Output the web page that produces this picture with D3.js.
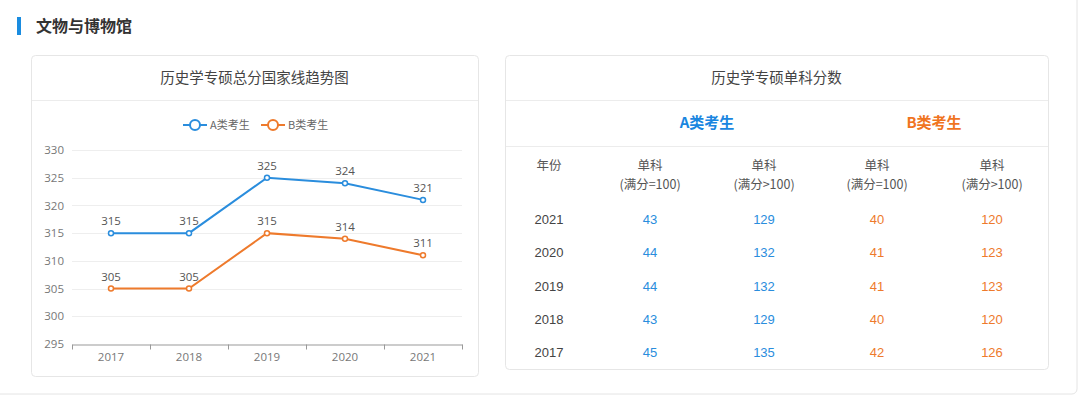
<!DOCTYPE html>
<html>
<head>
<meta charset="utf-8">
<script src="https://cdn.jsdelivr.net/npm/d3@7"></script>
<style>
  body { margin: 0; background: #fff; }
  svg { display: block; font-family: "Liberation Sans", "Noto Sans CJK SC", sans-serif; }
</style>
</head>
<body>
<div id="chart"></div>
<script>
var width = 1080;
var height = 398;
var blue = '#2a8ddd';
var orange = '#ee7a2c';

// line chart data
var years = ['2017', '2018', '2019', '2020', '2021'];
var scoreA = [315, 315, 325, 324, 321];
var scoreB = [305, 305, 315, 314, 311];
var yTicks = [295, 300, 305, 310, 315, 320, 325, 330];

// table data
var tableYears = ['2021', '2020', '2019', '2018', '2017'];
var a100 = [43, 44, 44, 43, 45];
var aOver = [129, 132, 132, 129, 135];
var b100 = [40, 41, 41, 40, 42];
var bOver = [120, 123, 123, 120, 126];
var colHeads = ['(满分=100)', '(满分>100)', '(满分=100)', '(满分>100)'];

var svg = d3.select('#chart').append('svg')
      .attr('width', width)
      .attr('height', height);

// outer frame
svg.append('rect')
      .attr('x', -6).attr('y', -6)
      .attr('width', 1083).attr('height', 400)
      .attr('rx', 5)
      .style('fill', '#fff')
      .style('stroke', '#e4e4e4');

// page title
svg.append('rect')
      .attr('x', 17).attr('y', 17)
      .attr('width', 4).attr('height', 18)
      .style('fill', '#1a8ce0');
svg.append('text')
      .attr('x', 36).attr('y', 32)
      .style('font-family', '"Noto Sans CJK SC", sans-serif')
      .style('font-size', '16px')
      .style('font-weight', 'bold')
      .style('fill', '#333')
      .text('文物与博物馆');

// card helper
function card(x, y, w, h, title) {
      var g = svg.append('g');
      g.append('rect')
            .attr('x', x + 0.5).attr('y', y + 0.5)
            .attr('width', w).attr('height', h)
            .attr('rx', 4)
            .style('fill', '#fff')
            .style('stroke', '#e6e6e6');
      g.append('line')
            .attr('x1', x + 1).attr('x2', x + w)
            .attr('y1', y + 45.5).attr('y2', y + 45.5)
            .style('stroke', '#ececec');
      g.append('text')
            .attr('x', x + w / 2).attr('y', y + 28)
            .style('text-anchor', 'middle')
            .style('font-family', '"Noto Sans CJK SC", sans-serif')
            .style('font-size', '14.5px')
            .style('fill', '#444')
            .text(title);
      return g;
}

card(31, 55, 447, 321, '历史学专硕总分国家线趋势图');
card(505, 55, 543, 314, '历史学专硕单科分数');

// ---- line chart ----
var xScale = d3.scaleBand()
      .domain(years)
      .range([72, 462]);

var yScale = d3.scaleLinear()
      .domain([295, 330])
      .range([344, 150]);

var plot = svg.append('g');

// gridlines
plot.selectAll('.grid')
      .data(yTicks.slice(1))
      .enter()
      .append('line')
      .attr('x1', 72).attr('x2', 462)
      .attr('y1', d => Math.round(yScale(d)) + 0.5)
      .attr('y2', d => Math.round(yScale(d)) + 0.5)
      .style('stroke', '#eeeeee');

var yAxis = d3.axisLeft(yScale)
      .tickValues(yTicks)
      .tickSize(0)
      .tickPadding(8);

var yAxisGroup = plot.append('g')
      .attr('transform', 'translate(72,0)')
      .call(yAxis);
yAxisGroup.select('.domain').remove();
yAxisGroup.selectAll('text')
      .style('font-size', '11.5px')
      .style('fill', '#777')
      .style('font-family', '"Open Sans", sans-serif');

var xAxis = d3.axisBottom(xScale)
      .tickSize(0)
      .tickPadding(8);

var xAxisGroup = plot.append('g')
      .attr('transform', 'translate(0,' + (yScale(295) + 0.5) + ')')
      .call(xAxis);
xAxisGroup.select('.domain')
      .style('stroke', '#999');
xAxisGroup.selectAll('text')
      .style('font-size', '11.5px')
      .style('fill', '#777')
      .style('font-family', '"Open Sans", sans-serif');

// band boundary ticks
var bounds = years.map(d => xScale(d)).concat([xScale.range()[1]]);
xAxisGroup.selectAll('.bt')
      .data(bounds)
      .enter()
      .append('line')
      .attr('x1', d => Math.round(d) + 0.5)
      .attr('x2', d => Math.round(d) + 0.5)
      .attr('y1', 0).attr('y2', 5)
      .style('stroke', '#999');

var cx = d => xScale(d) + xScale.bandwidth() / 2;

function drawSeries(values, color) {
      var pts = years.map((d, i) => [cx(d), yScale(values[i]), values[i]]);
      plot.append('path')
            .datum(pts)
            .attr('d', d3.line())
            .style('fill', 'none')
            .style('stroke', color)
            .style('stroke-width', 2);
      plot.selectAll(null)
            .data(pts)
            .enter()
            .append('circle')
            .attr('cx', d => d[0])
            .attr('cy', d => d[1])
            .attr('r', 2.5)
            .style('fill', '#fff')
            .style('stroke', color)
            .style('stroke-width', 1.5);
      plot.selectAll(null)
            .data(pts)
            .enter()
            .append('text')
            .attr('x', d => d[0])
            .attr('y', d => d[1] - 8)
            .style('text-anchor', 'middle')
            .style('font-size', '11.5px')
            .style('fill', '#555')
            .style('font-family', '"Open Sans", sans-serif')
            .text(d => d[2]);
}
drawSeries(scoreA, blue);
drawSeries(scoreB, orange);

// legend
var legend = [{name: 'A类考生', color: blue, x: 183}, {name: 'B类考生', color: orange, x: 261}];
var lg = plot.selectAll('.legend')
      .data(legend)
      .enter()
      .append('g')
      .attr('transform', d => 'translate(' + d.x + ',125)');
lg.append('line')
      .attr('x1', 0).attr('x2', 24)
      .style('stroke', d => d.color)
      .style('stroke-width', 2);
lg.append('circle')
      .attr('cx', 12).attr('r', 5)
      .style('fill', '#fff')
      .style('stroke', d => d.color)
      .style('stroke-width', 2);
lg.append('text')
      .attr('x', 27).attr('y', 4)
      .style('font-family', '"Noto Sans CJK SC", sans-serif')
      .style('font-size', '11px')
      .style('fill', '#666')
      .text(d => d.name);

// ---- table ----
var table = svg.append('g');
var colX = [549, 650, 764, 877, 992];

table.append('text')
      .attr('x', 707).attr('y', 128)
      .style('text-anchor', 'middle')
      .style('font-family', '"Noto Sans CJK SC", sans-serif')
      .style('font-size', '15px')
      .style('font-weight', 'bold')
      .style('fill', '#1a86e0')
      .text('A类考生');
table.append('text')
      .attr('x', 934).attr('y', 128)
      .style('text-anchor', 'middle')
      .style('font-family', '"Noto Sans CJK SC", sans-serif')
      .style('font-size', '15px')
      .style('font-weight', 'bold')
      .style('fill', '#f0741f')
      .text('B类考生');
table.append('line')
      .attr('x1', 506).attr('x2', 1048)
      .attr('y1', 146.5).attr('y2', 146.5)
      .style('stroke', '#ececec');

table.append('text')
      .attr('x', colX[0]).attr('y', 170)
      .style('text-anchor', 'middle')
      .style('font-family', '"Noto Sans CJK SC", sans-serif')
      .style('font-size', '12.5px')
      .style('fill', '#555')
      .text('年份');

var heads = table.selectAll('.head')
      .data(colHeads)
      .enter()
      .append('g')
      .attr('transform', (d, i) => 'translate(' + colX[i + 1] + ',0)');
heads.append('text')
      .attr('y', 170)
      .style('text-anchor', 'middle')
      .style('font-family', '"Noto Sans CJK SC", sans-serif')
      .style('font-size', '12.5px')
      .style('fill', '#555')
      .text('单科');
heads.append('text')
      .attr('y', 189)
      .style('text-anchor', 'middle')
      .style('font-family', '"Noto Sans CJK SC", sans-serif')
      .style('font-size', '12.5px')
      .style('fill', '#555')
      .text(d => d);

var rowY = d3.scalePoint()
      .domain(tableYears)
      .range([219, 352]);

var cols = [
      {values: tableYears, color: '#444'},
      {values: a100, color: blue},
      {values: aOver, color: blue},
      {values: b100, color: orange},
      {values: bOver, color: orange}
];
cols.forEach(function(c, ci) {
      table.selectAll(null)
            .data(c.values)
            .enter()
            .append('text')
            .attr('x', colX[ci])
            .attr('y', (d, i) => rowY(tableYears[i]) + 5)
            .style('text-anchor', 'middle')
            .style('font-size', '13px')
            .style('fill', c.color)
            .text(d => d);
});
</script>
</body>
</html>
